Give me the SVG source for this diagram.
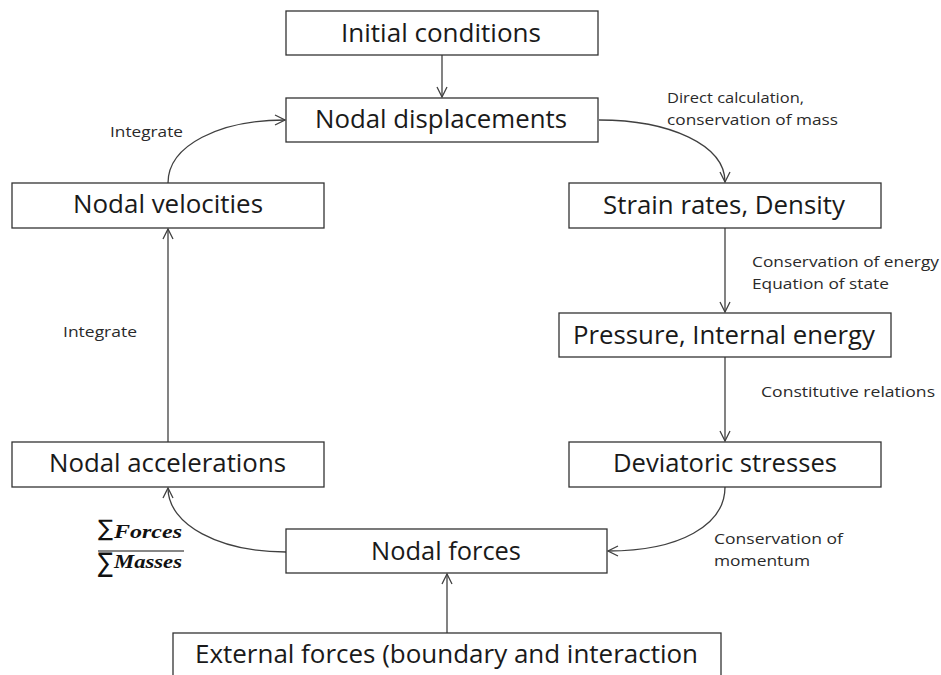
<svg xmlns="http://www.w3.org/2000/svg" width="941" height="675" viewBox="0 0 941 675">
  <style>
    .box { fill: #ffffff; stroke: #333333; stroke-width: 1.3; }
    .lbl { font-family: "Open Sans", "Noto Sans", sans-serif; font-size: 25.5px; fill: #1a1a1a; }
    .note { font-family: "Open Sans", "Noto Sans", sans-serif; font-size: 15px; fill: #2a2a2a; }
    .edge { fill: none; stroke: #404040; stroke-width: 1.3; marker-end: url(#vee); }
    .frac { font-family: "Liberation Serif", "Times New Roman", serif; font-weight: bold; font-style: italic; fill: #111111; }
    .sig { font-family: "DejaVu Sans", sans-serif; fill: #111111; }
  </style>
  <defs>
    <marker id="vee" viewBox="0 0 12 12" refX="11" refY="6" markerWidth="12" markerHeight="12" markerUnits="userSpaceOnUse" orient="auto">
      <path d="M1,1 L11,6 L1,11" fill="none" stroke="#404040" stroke-width="1.3"/>
    </marker>
  </defs>
  <rect width="941" height="675" fill="#ffffff"/>

  <!-- connectors -->
  <g id="connectors">
    <path class="edge" d="M442,55 L442,97"/>
    <path class="edge" d="M168,183 C168,145 220,120 285,120"/>
    <path class="edge" d="M599,120 C670,120 725,145 725,182"/>
    <path class="edge" d="M725,228 L725,312"/>
    <path class="edge" d="M725,357 L725,441"/>
    <path class="edge" d="M725,487 C725,525 680,551 608,551"/>
    <path class="edge" d="M286,552 C220,552 168,525 168,488"/>
    <path class="edge" d="M168,442 L168,229"/>
    <path class="edge" d="M447,633 L447,574"/>
  </g>

  <!-- connector labels -->
  <g id="edge-labels">
    <text class="note" x="110" y="137" textLength="73" lengthAdjust="spacingAndGlyphs">Integrate</text>
    <text class="note" x="63" y="337" textLength="74" lengthAdjust="spacingAndGlyphs">Integrate</text>
    <text class="note" x="667" y="103" textLength="137" lengthAdjust="spacingAndGlyphs">Direct calculation,</text>
    <text class="note" x="667" y="125" textLength="171" lengthAdjust="spacingAndGlyphs">conservation of mass</text>
    <text class="note" x="752" y="267" textLength="187" lengthAdjust="spacingAndGlyphs">Conservation of energy</text>
    <text class="note" x="752" y="289" textLength="137" lengthAdjust="spacingAndGlyphs">Equation of state</text>
    <text class="note" x="761" y="397" textLength="174" lengthAdjust="spacingAndGlyphs">Constitutive relations</text>
    <text class="note" x="714" y="544" textLength="129" lengthAdjust="spacingAndGlyphs">Conservation of</text>
    <text class="note" x="714" y="566" textLength="96" lengthAdjust="spacingAndGlyphs">momentum</text>
    <!-- sum of forces over sum of masses -->
    <g id="ratio">
      <text class="sig" x="98" y="536" font-size="23" textLength="15" lengthAdjust="spacingAndGlyphs">∑</text>
      <text class="frac" x="114" y="538" font-size="18" textLength="68" lengthAdjust="spacingAndGlyphs">Forces</text>
      <line x1="98" y1="551" x2="184" y2="551" stroke="#111111" stroke-width="1.2"/>
      <text class="sig" x="98" y="572" font-size="27" textLength="15" lengthAdjust="spacingAndGlyphs">∑</text>
      <text class="frac" x="114" y="568" font-size="18" textLength="68" lengthAdjust="spacingAndGlyphs">Masses</text>
    </g>
  </g>

  <!-- nodes -->
  <g id="initial-conditions">
    <rect class="box" x="286" y="11" width="312" height="44"/>
    <text class="lbl" x="341" y="42" textLength="200" lengthAdjust="spacingAndGlyphs">Initial conditions</text>
  </g>
  <g id="nodal-displacements">
    <rect class="box" x="286" y="98" width="312" height="44"/>
    <text class="lbl" x="315" y="128" textLength="252" lengthAdjust="spacingAndGlyphs">Nodal displacements</text>
  </g>
  <g id="nodal-velocities">
    <rect class="box" x="12" y="183" width="312" height="45"/>
    <text class="lbl" x="73" y="213" textLength="190" lengthAdjust="spacingAndGlyphs">Nodal velocities</text>
  </g>
  <g id="strain-rates">
    <rect class="box" x="569" y="183" width="312" height="45"/>
    <text class="lbl" x="603" y="214" textLength="242" lengthAdjust="spacingAndGlyphs">Strain rates, Density</text>
  </g>
  <g id="pressure">
    <rect class="box" x="559" y="313" width="332" height="44"/>
    <text class="lbl" x="573" y="344" textLength="302" lengthAdjust="spacingAndGlyphs">Pressure, Internal energy</text>
  </g>
  <g id="deviatoric-stresses">
    <rect class="box" x="569" y="442" width="312" height="45"/>
    <text class="lbl" x="613" y="472" textLength="224" lengthAdjust="spacingAndGlyphs">Deviatoric stresses</text>
  </g>
  <g id="nodal-accelerations">
    <rect class="box" x="12" y="442" width="312" height="45"/>
    <text class="lbl" x="49" y="472" textLength="237" lengthAdjust="spacingAndGlyphs">Nodal accelerations</text>
  </g>
  <g id="nodal-forces">
    <rect class="box" x="286" y="529" width="321" height="44"/>
    <text class="lbl" x="371" y="560" textLength="150" lengthAdjust="spacingAndGlyphs">Nodal forces</text>
  </g>
  <g id="external-forces">
    <rect class="box" x="173" y="633" width="548" height="60"/>
    <text class="lbl" x="195" y="663" textLength="503" lengthAdjust="spacingAndGlyphs">External forces (boundary and interaction</text>
  </g>
</svg>
